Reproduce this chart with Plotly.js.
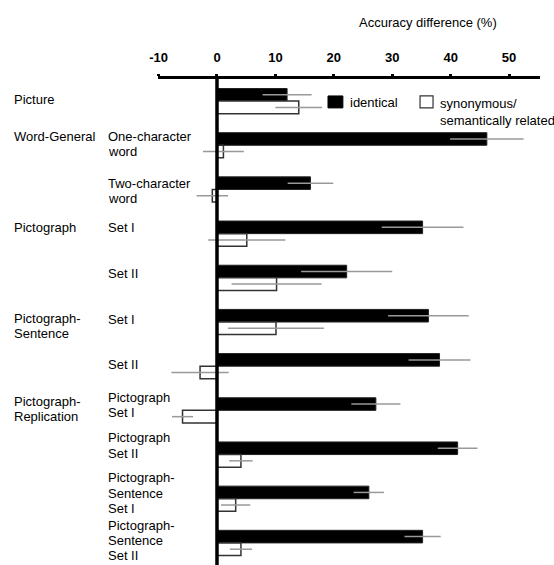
<!DOCTYPE html>
<html>
<head>
<meta charset="utf-8">
<script src="https://cdn.plot.ly/plotly-3.0.1.min.js"></script>
<style>html,body{margin:0;padding:0;background:#fff;}#chart{width:554px;height:565px;}</style>
</head>
<body>
<div id="chart"></div>
<script>
// ---- data ----
var categories = ["c0","c1","c2","c3","c4","c5","c6","c7","c8","c9","c10"];
var groupLabels = ["Picture","Word-General","","Pictograph","","Pictograph-<br>Sentence","","Pictograph-<br>Replication","","",""];
var subLabels = ["","One-character<br>word","Two-character<br>word","Set I","Set II","Set I","Set II",
                 "Pictograph<br>Set I","Pictograph<br>Set II","Pictograph-<br>Sentence<br>Set I","Pictograph-<br>Sentence<br>Set II"];
var identical = [12.0, 46.2, 16.0, 35.2, 22.2, 36.2, 38.1, 27.2, 41.2, 26.0, 35.2];
var identicalErr = [4.2, 6.3, 3.9, 7.0, 7.8, 6.9, 5.3, 4.2, 3.4, 2.6, 3.1];
var synonymous = [14.0, 1.1, -0.8, 5.1, 10.2, 10.1, -2.9, -5.9, 4.1, 3.2, 4.1];
var synonymousErr = [4.0, 3.5, 2.7, 6.6, 7.7, 8.2, 4.9, 1.8, 2.0, 2.5, 1.9];
var tickVals = [-10, 0, 10, 20, 30, 40, 50];
var tickText = ["-10", "0", "10", "20", "30", "40", "50"];
var seriesNames = ["identical", "synonymous/<br>semantically related"];
var axisTitle = "Accuracy difference (%)";

// ---- layout helpers (positions only) ----
var subShift = [0, 1.45, -1.3, 5.9, 4.5, 2.7, 1.9, 5.4, 9.0, 5.5, 2.5];
var groupShift = [1.8, 8.6, 0, 5.9, 0, -4.3, 0, 1.2, 0, 0, 0];
var LINE_SP = 15.3;
var FONT = "Liberation Sans, Arial, Helvetica, sans-serif";

var errStyle = {type: "data", visible: true, color: "#999999", thickness: 1.5, width: 0};

var traces = [
  {
    type: "bar", orientation: "h", name: seriesNames[0],
    y: categories, x: identical,
    error_x: Object.assign({array: identicalErr}, errStyle),
    marker: {color: "#000000", line: {color: "#222222", width: 1}},
    showlegend: false, hoverinfo: "x"
  },
  {
    type: "bar", orientation: "h", name: seriesNames[1],
    y: categories, x: synonymous,
    error_x: Object.assign({array: synonymousErr}, errStyle),
    marker: {color: "#ffffff", line: {color: "#333333", width: 1.5}},
    showlegend: false, hoverinfo: "x"
  }
];

var annotations = [];
function addLabel(text, cat, xPaper, shift) {
  var lines = text.split("<br>");
  var n = lines.length;
  for (var k = 0; k < n; k++) {
    annotations.push({xref: "paper", yref: "y", x: xPaper, y: cat, text: lines[k],
      xanchor: "left", yanchor: "middle", align: "left", showarrow: false,
      yshift: shift + ((n - 1) / 2 - k) * LINE_SP,
      font: {family: FONT, size: 13, color: "#000"}});
  }
}
for (var i = 0; i < categories.length; i++) {
  if (groupLabels[i]) addLabel(groupLabels[i], categories[i], -0.382, groupShift[i]);
  if (subLabels[i]) addLabel(subLabels[i], categories[i], -0.136, subShift[i]);
}
// axis title
annotations.push({xref: "paper", yref: "paper", x: 0.707, y: 1.1156, text: axisTitle,
  xanchor: "center", yanchor: "middle", showarrow: false, font: {family: FONT, size: 13, color: "#000"}});
// legend text
annotations.push({xref: "paper", yref: "paper", x: 0.497, y: 0.9507, text: seriesNames[0],
  xanchor: "left", yanchor: "middle", align: "left", showarrow: false, font: {family: FONT, size: 13, color: "#000"}});
annotations.push({xref: "paper", yref: "paper", x: 0.733, y: 0.9324, text: seriesNames[1],
  xanchor: "left", yanchor: "middle", align: "left", showarrow: false, font: {family: FONT, size: 13, color: "#000"}});

var shapes = [
  // zero reference line
  {type: "line", xref: "x", yref: "paper", x0: 0, x1: 0, y0: -0.01, y1: 1, layer: "above",
   line: {color: "#000", width: 3.5}},
  // legend swatches
  {type: "rect", xref: "paper", yref: "paper", x0: 0.445, x1: 0.484, y0: 0.9405, y1: 0.9651,
   fillcolor: "#000", line: {color: "#000", width: 1}},
  {type: "rect", xref: "paper", yref: "paper", x0: 0.686, x1: 0.720, y0: 0.9405, y1: 0.9651,
   fillcolor: "#fff", line: {color: "#333", width: 1.2}}
];

var layout = {
  width: 554, height: 565,
  margin: {l: 158, r: 14, t: 79, b: 0, pad: 0},
  paper_bgcolor: "#fff", plot_bgcolor: "#fff",
  font: {family: FONT, size: 13, color: "#000"},
  barmode: "group", bargap: 0.43, bargroupgap: 0,
  showlegend: false,
  xaxis: {
    side: "top", range: [-10.1, 55.3], tickmode: "array", tickvals: tickVals, ticktext: tickText,
    showgrid: false, zeroline: false, showline: true, linecolor: "#000", linewidth: 3,
    ticks: "outside", ticklen: 2, tickwidth: 3, tickcolor: "#000",
    tickfont: {family: FONT, size: 13, color: "#000", weight: "bold"},
    ticklabelstandoff: 7, fixedrange: true
  },
  yaxis: {
    type: "category", categoryorder: "array", categoryarray: categories,
    range: [10.5, -0.5], showticklabels: false, ticks: "", showgrid: false,
    zeroline: false, showline: false, fixedrange: true
  },
  annotations: annotations,
  shapes: shapes
};

Plotly.newPlot("chart", traces, layout, {staticPlot: true, displayModeBar: false});
</script>
</body>
</html>
